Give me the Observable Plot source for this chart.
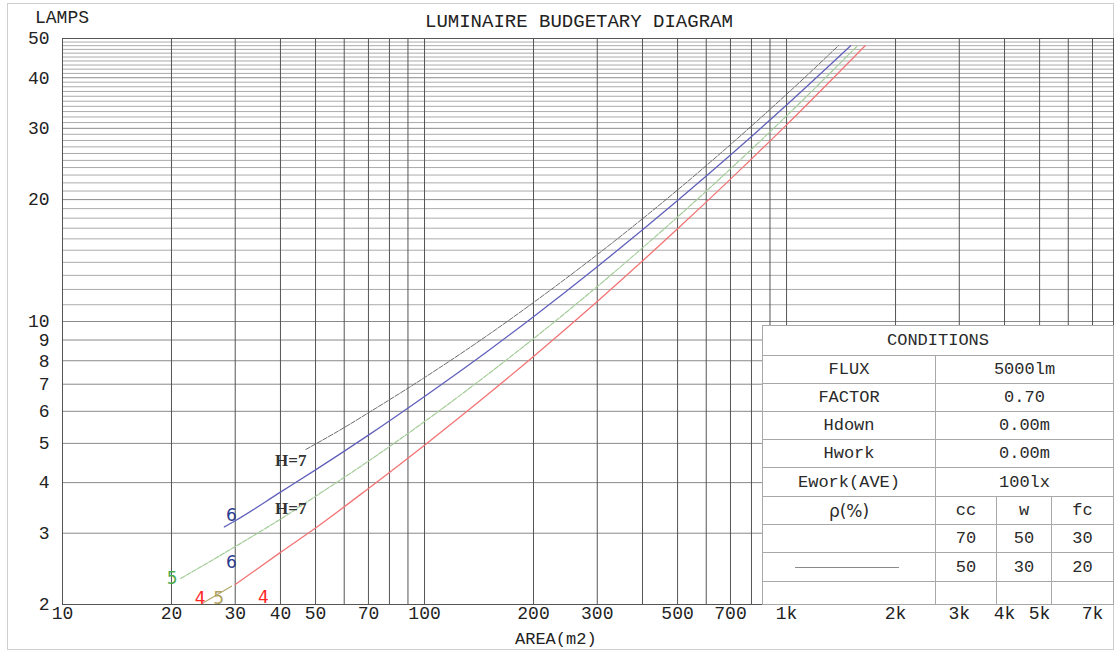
<!DOCTYPE html>
<html><head><meta charset="utf-8">
<script src="https://cdn.jsdelivr.net/npm/d3@7"></script>
<script src="https://cdn.jsdelivr.net/npm/@observablehq/plot@0.6"></script>
<style>
body{margin:0;background:#fff;}
#wrap{position:relative;width:1116px;height:652px;overflow:hidden;font-family:"Liberation Mono",monospace;color:#222;}
#wrap svg{position:absolute;left:0;top:0;}
.lbl{position:absolute;white-space:nowrap;line-height:20px;}
#scanframe{position:absolute;left:7px;top:3px;width:1105px;height:645px;border:1px solid #cfcfcf;pointer-events:none;}
#cond{position:absolute;left:762px;top:325px;width:351px;height:279px;border-collapse:collapse;background:#fff;font-size:17px;table-layout:fixed;}
#cond td{border:1px solid #a8a8a8;text-align:center;padding:0;color:#2a2a2a;}
</style></head>
<body><div id="wrap"><div id="scanframe"></div></div>
<script>
// ---- text ----
const titleText = "LUMINAIRE BUDGETARY DIAGRAM";
const yLabelText = "LAMPS";
const xLabelText = "AREA(m2)";

// ---- ticks ----
const xTicks = [10, 20, 30, 40, 50, 70, 100, 200, 300, 500, 700, 1000, 2000, 3000, 4000, 5000, 7000];
const xTickLabels = ["10", "20", "30", "40", "50", "70", "100", "200", "300", "500", "700", "1k", "2k", "3k", "4k", "5k", "7k"];
const yTicks = [2, 3, 4, 5, 6, 7, 8, 9, 10, 20, 30, 40, 50];
const yTickLabels = ["2", "3", "4", "5", "6", "7", "8", "9", "10", "20", "30", "40", "50"];
const xGrid = [10, 20, 30, 40, 50, 60, 70, 80, 90, 100, 200, 300, 400, 500, 600, 700, 800, 900,
               1000, 2000, 3000, 4000, 5000, 6000, 7000];
const yGridMajor = [2, 3, 4, 5, 6, 7, 8, 9, 10, 20, 30, 40, 50];
const yGridMinor = d3.range(11, 50).filter(v => v % 10 !== 0);

// ---- curves (area m2 -> lamps) ----
const grayArea  = [47, 60, 70, 100, 150, 200, 300, 500, 700, 1000, 1391];
const grayLamps = [4.83, 5.47, 5.95, 7.27, 9.27, 11.14, 14.63, 21.13, 27.35, 36.4, 48];
const blueArea  = [28, 30, 40, 50, 70, 100, 150, 200, 300, 500, 700, 1000, 1503];
const blueLamps = [3.11, 3.22, 3.79, 4.30, 5.24, 6.53, 8.47, 10.28, 13.66, 19.9, 25.78, 34.27, 48];
const greenArea  = [21.2, 30, 40, 50, 70, 100, 150, 200, 300, 500, 700, 1000, 1571];
const greenLamps = [2.32, 2.78, 3.25, 3.70, 4.52, 5.66, 7.42, 9.07, 12.2, 18.12, 23.82, 32.2, 48];
const redArea  = [30, 40, 50, 70, 100, 150, 200, 300, 500, 700, 1000, 1648];
const redLamps = [2.24, 2.69, 3.09, 3.87, 4.95, 6.62, 8.20, 11.21, 16.94, 22.47, 30.6, 48];
const oliveArea  = [24.5, 29.3];
const oliveLamps = [2.02, 2.22];

// ---- curve labels ----
const labelText  = ["H=7", "H=7", "6", "6", "5", "4", "5", "4"];
const labelArea  = [42.7, 42.7, 29.3, 29.3, 20.1, 24.0, 27.0, 35.9];
const labelLamps = [4.53, 3.45, 3.32, 2.54, 2.32, 2.07, 2.07, 2.08];
const labelKind  = ["h", "h", "blue", "blue", "green", "red", "olive", "red"];

// ---- conditions table ----
const condTitle = "CONDITIONS";
const condLabels = ["FLUX", "FACTOR", "Hdown", "Hwork", "Ework(AVE)"];
const condValues = ["5000lm", "0.70", "0.00m", "0.00m", "100lx"];
const reflTitle = "ρ(%)";
const reflHeader = ["cc", "w", "fc"];
const reflRows = [[70, 50, 30], [50, 30, 20]];

const colors = {gray: "#6e6e6e", blue: "#6060bc", green: "#a3cc98", red: "#f27474", olive: "#b3a866",
                h: "#333333", blueLbl: "#2d3c92", greenLbl: "#4aab4a", redLbl: "#ff2424", oliveLbl: "#b0a060"};
const lblColor = {h: colors.h, blue: colors.blueLbl, green: colors.greenLbl, red: colors.redLbl, olive: colors.oliveLbl};

const toRows = (a, l) => a.map((v, i) => ({area: v, lamps: l[i]}));
const labels = labelText.map((t, i) => ({t, area: labelArea[i], lamps: labelLamps[i], k: labelKind[i]}));
const tickFont = "Liberation Mono, monospace";

const plot = Plot.plot({
  width: 1116, height: 652,
  marginLeft: 62, marginRight: 3, marginTop: 38, marginBottom: 48,
  style: {fontFamily: tickFont, fontSize: "18px", color: "#222", background: "transparent", overflow: "visible"},
  x: {type: "log", domain: [10, 8000], axis: null},
  y: {type: "log", domain: [2, 50], axis: null},
  marks: [
    Plot.ruleY(yGridMinor, {stroke: "#ababab", strokeWidth: 1}),
    Plot.ruleY(yGridMajor, {stroke: "#8a8a8a", strokeWidth: 1}),
    Plot.ruleX(xGrid, {stroke: "#555", strokeWidth: 1}),
    Plot.frame({stroke: "#555"}),
    Plot.text(xTicks, {x: d => d, text: (d, i) => xTickLabels[i], frameAnchor: "bottom", dy: 14, fontSize: 18, fontFamily: tickFont, fill: "#222"}),
    Plot.text(yTicks, {y: d => d, text: (d, i) => yTickLabels[i], frameAnchor: "left", dx: -13, textAnchor: "end", fontSize: 18, fontFamily: tickFont, fill: "#222"}),
    Plot.line(toRows(grayArea, grayLamps), {x: "area", y: "lamps", stroke: colors.gray, strokeWidth: 1, strokeDasharray: "5,1.5", curve: "monotone-x"}),
    Plot.line(toRows(blueArea, blueLamps), {x: "area", y: "lamps", stroke: colors.blue, strokeWidth: 1.3, curve: "monotone-x"}),
    Plot.line(toRows(greenArea, greenLamps), {x: "area", y: "lamps", stroke: colors.green, strokeWidth: 1.2, strokeDasharray: "5,1.5", curve: "monotone-x"}),
    Plot.line(toRows(redArea, redLamps), {x: "area", y: "lamps", stroke: colors.red, strokeWidth: 1.3, curve: "monotone-x"}),
    Plot.line(toRows(oliveArea, oliveLamps), {x: "area", y: "lamps", stroke: colors.olive, strokeWidth: 1.2}),
    Plot.text(labels.filter(d => d.k === "h"), {x: "area", y: "lamps", text: "t", fill: colors.h, fontFamily: "Liberation Serif, serif", fontSize: 17, fontWeight: "bold"}),
    Plot.text(labels.filter(d => d.k !== "h"), {x: "area", y: "lamps", text: "t", fill: d => lblColor[d.k], fontFamily: "DejaVu Sans, sans-serif", fontSize: 17})
  ]
});
const wrap = document.getElementById("wrap");
wrap.appendChild(plot);

function addLabel(text, left, top, size) {
  const d = document.createElement("div");
  d.className = "lbl"; d.textContent = text;
  d.style.left = left + "px"; d.style.top = top + "px"; d.style.fontSize = size + "px";
  wrap.appendChild(d);
}
addLabel(titleText, 425, 12, 19);
addLabel(yLabelText, 35, 8, 18);
addLabel(xLabelText, 515, 630, 17);

// conditions table
const tbl = document.createElement("table");
tbl.id = "cond";
const cg = document.createElement("colgroup");
[173, 61, 55, 62].forEach(w => { const c = document.createElement("col"); c.style.width = w + "px"; cg.appendChild(c); });
tbl.appendChild(cg);
const rowH = [30, 28, 28, 28, 28, 29, 28, 28, 29, 23];
let r = 0;
function tr() { const t = document.createElement("tr"); t.style.height = rowH[r++] + "px"; tbl.appendChild(t); return t; }
function td(row, text, span) { const c = document.createElement("td"); c.textContent = text; if (span) c.colSpan = span; row.appendChild(c); return c; }
td(tr(), condTitle, 4);
condLabels.forEach((l, i) => { const row = tr(); td(row, l); td(row, condValues[i], 3); });
{ const row = tr(); td(row, reflTitle).style.fontFamily = "DejaVu Sans, sans-serif"; reflHeader.forEach(h => td(row, h)); }
reflRows.forEach((vals, i) => {
  const row = tr();
  const c = td(row, "");
  if (i === 1) { c.innerHTML = '<div style="margin:0 auto 0 32px;width:104px;border-top:1px solid #8a8a8a;"></div>'; }
  vals.forEach(v => td(row, String(v)));
});
{ const row = tr(); td(row, ""); td(row, ""); td(row, ""); td(row, ""); }
wrap.appendChild(tbl);
</script>
</body></html>
